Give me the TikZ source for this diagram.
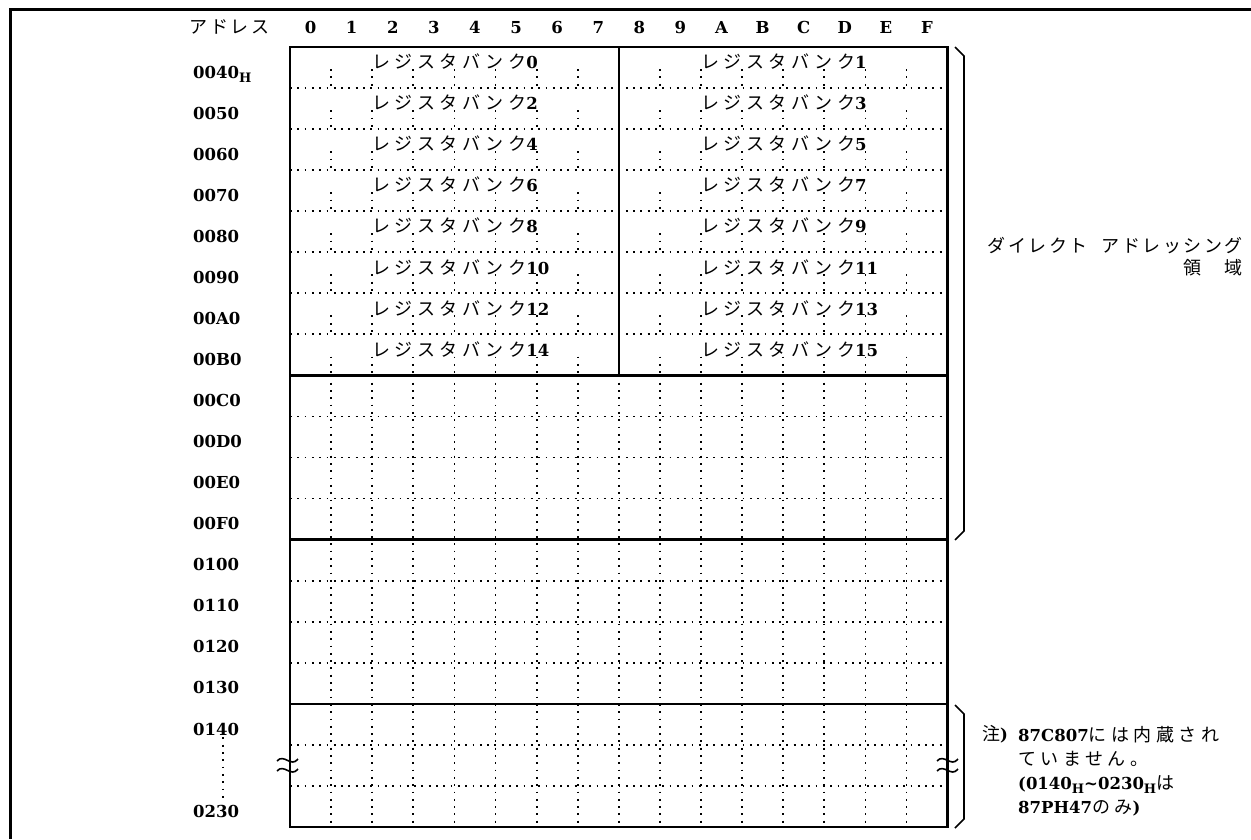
\documentclass[tikz,border=0pt]{standalone}
\usepackage{fontspec}
\setmainfont{DejaVu Serif}
\newfontfamily\jpwide[LetterSpace=25]{Noto Sans CJK JP}
\newfontfamily\jpfont[LetterSpace=14]{Noto Sans CJK JP}
\usetikzlibrary{positioning}
\tikzset{
  frame/.style={line width=2.4pt},
  dotline/.style={line width=1.8pt, dash pattern=on 1.8pt off 5.5pt},
  txt/.style={inner sep=0pt, font=\fontsize{16.5}{24}\selectfont\bfseries},
  bank/.style={txt, anchor=base west},
  hdr/.style={txt, anchor=base},
  addr/.style={txt, anchor=base west},
  brk/.style={line width=1.6pt},
  brace/.style={line width=1.6pt},
}
\newcommand{\jp}[1]{{\jpfont\mdseries\fontsize{18}{24}\selectfont #1}}
\newcommand{\jpw}[1]{{\jpwide\mdseries\fontsize{18}{24}\selectfont #1}}
\newcommand{\subH}{\raisebox{-4pt}{\fontsize{13}{13}\selectfont H}}

\begin{document}
\begin{tikzpicture}[x=1pt,y=-1pt]
\useasboundingbox (0,0) rectangle (1251,839);
% frame of the page, cut at right and bottom
\draw[line width=3pt] (1251,9.5) -- (10,9.5) -- (10,839);

\begin{scope}[shift={(290,47)}, x=41.1pt, y=-41.05pt]
% dotted grid
\foreach \r in {1,...,7,9,10,11,13,14,15,17,18}
  \draw[dotline] (0,\r) -- (16,\r);
\foreach \r in {0,...,7}
  \foreach \c in {1,2,3,4,5,6,7,9,10,11,12,13,14,15}
    \draw[dotline] (\c,\r+0.54) -- (\c,\r+1);
\foreach \c in {1,...,15}
  \draw[dotline] (\c,8) -- (\c,19);
% solid lines
\draw[frame] (0,0) rectangle (16,19);
\foreach \r in {8,12,16}
  \draw[frame] (0,\r) -- (16,\r);
\draw[frame] (8,0) -- (8,8);

% column heads
\node[txt, anchor=base west] (addrhead) at (-2.44,-0.34) {\jp{アドレス}};
\foreach \h [count=\i from 0] in {0,1,2,3,4,5,6,7,8,9,A,B,C,D,E,F}
  \node[hdr] (col\h) at (\i+0.5,-0.34) {\h};

% register banks
\foreach \r in {0,...,7} {
  \pgfmathtruncatemacro\bl{2*\r}
  \pgfmathtruncatemacro\br{2*\r+1}
  \node[bank] (bank\bl) at (2,\r+0.53) {\jpw{レジスタバンク}\bl};
  \node[bank] (bank\br) at (10,\r+0.53) {\jpw{レジスタバンク}\br};
}

% addresses
\foreach \r/\a in {0/0040\subH,1/0050,2/0060,3/0070,4/0080,5/0090,6/00A0,7/00B0,
                   8/00C0,9/00D0,10/00E0,11/00F0,12/0100,13/0110,14/0120,15/0130,
                   16/0140,18/0230}
  \node[addr] (addr\r) at (-2.36,\r+0.76) {\a};
\draw[dotline] ([xshift=30pt,yshift=-2pt]addr16.south west) -- ([xshift=30pt,yshift=7pt]addr18.north west);
\end{scope}

% braces
\draw[brace] (955,47) -- (964,56) -- (964,531) -- (955,540);
\draw[brace] (955,705) -- (964,714) -- (964,819) -- (955,828);

% break marks
\foreach \x in {288,948} {
  \draw[brk] (\x-11,761) .. controls (\x-4,753) and (\x+3,768) .. (\x+10,759);
  \draw[brk] (\x-11,771) .. controls (\x-4,763) and (\x+3,778) .. (\x+10,769);
}

% notes
\node[txt, anchor=east, align=right, font=\fontsize{17.5}{22}\selectfont] (direct) at (1243,257)
  {\jp{ダイレクト\hspace{14pt}アドレッシング}\\\jp{領　域}};
\node[txt, anchor=base west] (notemark) at (982,740) {\jp{注})};
\node[txt, anchor=north west, align=left] (note) at (1018,726)
  {87C807\jpw{には内蔵され}\\\jpw{ていません。}\\(0140\subH\textasciitilde 0230\subH\jpw{は}\\87PH47\jpw{のみ})};
\end{tikzpicture}
\end{document}
